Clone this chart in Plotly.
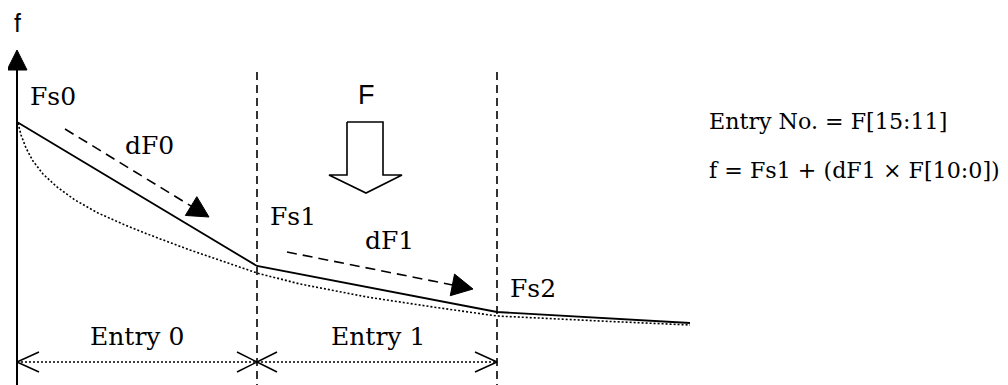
import math
import plotly.graph_objects as go

W, H = 1008, 385
PAGE_MARGIN = 8  # the page body keeps its default margin

# piecewise-linear approximation (solid) : Fs0 -> Fs1 -> Fs2 -> tail
seg_x = [17, 257, 497, 690]
seg_y = [122, 266, 312, 323]

# the real curve (dotted)
curve_x = [18, 21, 26, 33, 43, 57, 75, 98, 125, 155, 190, 225, 257, 300, 367, 433, 497, 600, 690]
curve_y = [123, 135, 148, 161, 174, 187, 200, 213, 225, 237, 250, 262, 273, 284, 297, 307, 316, 321, 325]

# entry boundaries and the f axis
axis_x = 17
axis_tip = 50
boundary_x = [257, 497]
boundary_top = 72
dim_y = 362

# slope arrows (start, tip)
dF0_arrow = [(65, 129), (209, 217)]
dF1_arrow = [(287, 252), (473, 289)]

# hollow input arrow "F"
F_arrow_x = [347, 383, 383, 402, 366, 329, 347, 347]
F_arrow_y = [122, 122, 175, 175, 193, 175, 175, 122]

serif = "DejaVu Serif"
sans = "Liberation Sans"
labels = [
    ("Fs0", 53, 96, serif, 25),
    ("dF0", 149, 145, serif, 25),
    ("Fs1", 293, 216, serif, 25),
    ("dF1", 389, 240, serif, 25),
    ("Fs2", 533, 288, serif, 25),
    ("Entry 0", 137, 336, serif, 25),
    ("Entry 1", 378, 336, serif, 25),
    ("f", 17, 23, sans, 25),
    ("F", 366, 95, sans, 27),
]
formula_lines = [("Entry No. = F[15:11]", 121), ("f = Fs1 + (dF1 \u00d7 F[10:0])", 170)]
formula_x = 707

fig = go.Figure()


def line(xs, ys, width=1.6, dash="solid", fill=None):
    fig.add_trace(go.Scatter(
        x=xs, y=ys, mode="lines", fill=fill, fillcolor="black",
        line=dict(color="black", width=width, dash=dash),
        hoverinfo="skip", showlegend=False))


def head(tip, back, length, half, filled=True):
    # triangle / chevron pointing from back towards tip
    dx, dy = tip[0] - back[0], tip[1] - back[1]
    n = math.hypot(dx, dy)
    ux, uy = dx / n, dy / n
    bx, by = tip[0] - ux * length, tip[1] - uy * length
    p1 = (bx - uy * half, by + ux * half)
    p2 = (bx + uy * half, by - ux * half)
    if filled:
        line([p1[0], tip[0], p2[0], p1[0]], [p1[1], tip[1], p2[1], p1[1]], width=1, fill="toself")
    else:
        line([p1[0], tip[0], p2[0]], [p1[1], tip[1], p2[1]], width=1.5)


# axis with arrowhead
line([axis_x, axis_x], [H, axis_tip + 15], width=2)
head((axis_x, axis_tip), (axis_x, H), 20, 10)

# boundaries
for bx in boundary_x:
    line([bx, bx], [boundary_top, H], width=1.6, dash="8px,5px")

# true curve and its approximation
line(curve_x, curve_y, width=1.6, dash="2px,2px")
line(seg_x, seg_y, width=1.8)

# slope arrows
for (s, t) in [dF0_arrow, dF1_arrow]:
    d = math.hypot(t[0] - s[0], t[1] - s[1])
    ex = t[0] - (t[0] - s[0]) / d * 18
    ey = t[1] - (t[1] - s[1]) / d * 18
    line([s[0], ex], [s[1], ey], width=1.6, dash="10px,6px")
    head(t, s, 21, 11)

# entry dimension line
line([axis_x, boundary_x[-1]], [dim_y, dim_y], width=1.5, dash="2px,2px")
head((axis_x, dim_y), (boundary_x[-1], dim_y), 22, 10, filled=False)
head((boundary_x[0], dim_y), (axis_x, dim_y), 20, 10, filled=False)
head((boundary_x[0], dim_y), (boundary_x[-1], dim_y), 20, 10, filled=False)
head((boundary_x[-1], dim_y), (axis_x, dim_y), 22, 10, filled=False)

# hollow F arrow
line(F_arrow_x, F_arrow_y, width=1.6)

for text, x, y, fam, size in labels:
    fig.add_annotation(x=x, y=y, text=text, showarrow=False, xanchor="center", yanchor="middle",
                       font=dict(family=fam, size=size, color="black"))
for text, y in formula_lines:
    fig.add_annotation(x=formula_x, y=y, text=text, showarrow=False, xanchor="left", yanchor="middle",
                       font=dict(family=serif, size=22.2, color="black"))

fig.update_layout(
    width=W - PAGE_MARGIN, height=H - PAGE_MARGIN, margin=dict(l=0, r=0, t=0, b=0),
    paper_bgcolor="white", plot_bgcolor="white",
    xaxis=dict(range=[PAGE_MARGIN, W], visible=False, fixedrange=True),
    yaxis=dict(range=[H, PAGE_MARGIN], visible=False, fixedrange=True),
)

fig.write_html("out.html")
